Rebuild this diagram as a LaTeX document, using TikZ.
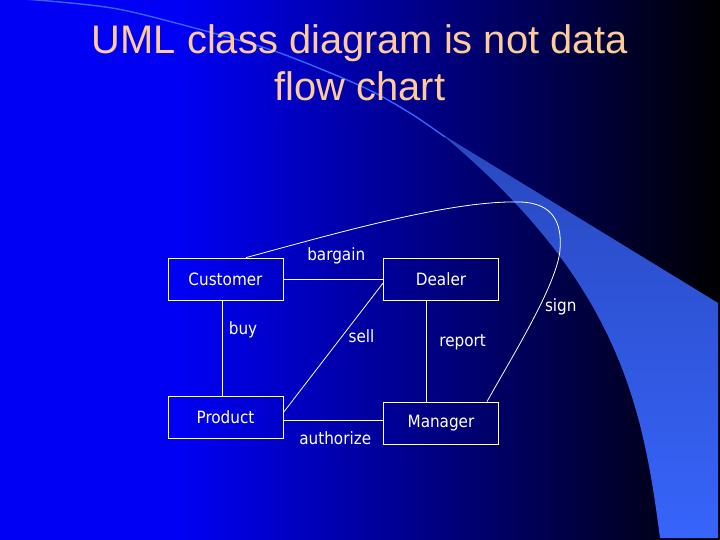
\documentclass[tikz,border=0pt]{standalone}
\usepackage{fontspec}
\usepackage{xcolor}
\usepackage{tikz}
\usetikzlibrary{arrows,positioning,shapes,calc}

\newfontfamily\titlefont{Liberation Sans}
\newfontfamily\boxfont{DejaVu Sans Condensed}

\definecolor{slideblue}{RGB}{0,0,245}
\definecolor{swoosh}{RGB}{55,100,250}
\definecolor{swooshdark}{RGB}{40,72,190}
\definecolor{titletan}{RGB}{255,204,153}

\pgfdeclarehorizontalshading{slidebg}{100bp}{color(0bp)=(slideblue); color(37.5bp)=(slideblue); color(75bp)=(black); color(100bp)=(black)}

\begin{document}
\begin{tikzpicture}[
				x = 1bp, y = -1bp, % pixel coordinates, y goes down
				node distance = 215.5bp, % distance between nodes
				thin % line style
			]
			
			\tikzstyle{cls}=[
			draw = white,
			line width = 0.8bp,
			minimum width = 115bp,
			minimum height = 42bp,
			inner sep = 0pt,
			text = white,
			font = \boxfont\fontsize{17}{18}\selectfont
			]
			\tikzstyle{lbl}=[inner sep = 0pt, text = white, font = \boxfont\fontsize{17}{18}\selectfont]
			\tikzstyle{conn}=[draw = white, line width = 0.8bp]
			
			% slide background
			\useasboundingbox (0,0) rectangle (720,540);
			\shade[shading = slidebg] (0,0) rectangle (720,540);
			\shade[top color = swooshdark, middle color = swoosh, bottom color = swoosh] (440,133) .. controls (620,282) and (643,408) .. (660,538) -- (718,538) -- (718,303) -- cycle;
			\draw[swoosh, line width = 1.4bp] plot[smooth] coordinates {(-5,-3) (60,2) (123,10) (213,33) (280,53) (363,87) (410,113) (445,137)};
			
			\node[text = titletan, align = center, inner sep = 0pt, font = \titlefont\fontsize{40}{47}\selectfont] (ttl) at (360,63) {UML class diagram is not data\\flow chart};
			
			\node[cls] (cu) at (225.5,279) {Customer};
			\node[cls, right of = cu] (de) {Dealer};
			\node[cls, below of = cu, yshift = 77bp] (pr) {Product};
			\node[cls, below of = de, yshift = 71.5bp] (ma) {Manager};
			
			\path[conn] (cu) edge node[lbl, above = 15bp, xshift = 3bp] {bargain} (de);
			\path[conn] ([xshift = -3bp]cu.south) edge node[lbl, right = 6bp, pos = 0.31] {buy} ([xshift = -3bp]pr.north);
			\path[conn] ([yshift = 5bp]pr.east) edge node[lbl, right = 6bp, pos = 0.59] {sell} ([yshift = -4bp]de.west);
			\path[conn] ([xshift = -15bp]de.south) edge node[lbl, right = 13bp, pos = 0.415] {report} ([xshift = -15bp]de.south |- ma.north);
			\path[conn] ([yshift = -2.5bp]pr.east) edge node[lbl, below = 11bp, xshift = 2bp] {authorize} ([yshift = -2.5bp]pr.east -| ma.west);
			\draw[conn] ([xshift = 20.5bp]cu.north) .. controls (330,235) and (450,200) .. (520,202) .. controls (555,203) and (562,225) .. (560,250) .. controls (557,285) and (510,360) .. ([xshift = 46bp]ma.north) node[lbl, pos = 0.4, right = 5bp] {sign};
\end{tikzpicture}
\end{document}
